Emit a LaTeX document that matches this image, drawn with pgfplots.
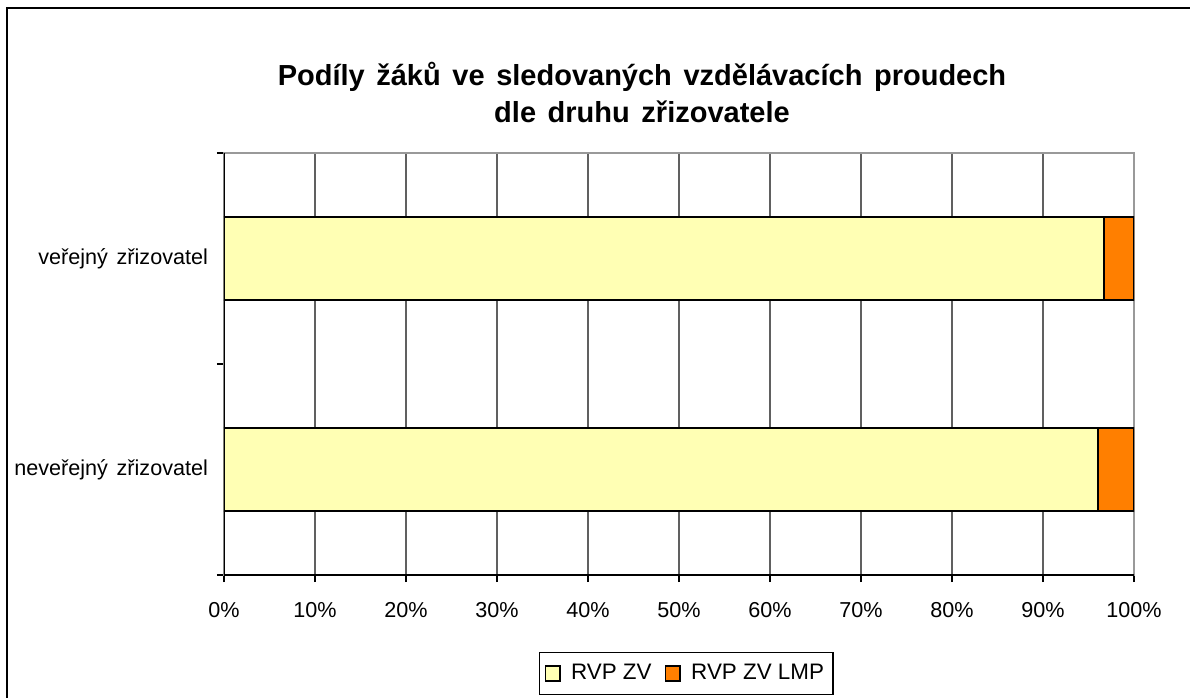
\documentclass[border=0pt]{standalone}
\usepackage{pgfplots}
\pgfplotsset{compat=1.18}
\usepackage{fontspec}
\setmainfont{Liberation Sans}
\newcommand{\wsp}[1]{\spaceskip=#1\relax}
\definecolor{zv}{HTML}{FFFFB4}
\definecolor{lmp}{HTML}{FF7F00}
\definecolor{gridc}{HTML}{606060}
\definecolor{boxc}{HTML}{999999}
\begin{document}
\begin{tikzpicture}
\useasboundingbox (0,0) rectangle (595pt,348.5pt);
\fill[white] (0,0) rectangle (595pt,348.5pt);
\draw[black, line width=0.7pt] (3.5pt,-5pt) -- (3.5pt,344.5pt) -- (600pt,344.5pt);
\node[align=center, font=\fontsize{14.5}{18.5}\selectfont\bfseries\wsp{0.4em}] at (321pt,302pt)
  {Podíly žáků ve sledovaných vzdělávacích proudech\\dle druhu zřizovatele};
\begin{axis}[
  at={(112pt,61pt)}, anchor=south west,
  scale only axis, width=455pt, height=211pt,
  xbar stacked, bar width=0.39,
  xmin=0, xmax=100, ymin=-0.5, ymax=1.5,
  xtick={0,10,...,100},
  xticklabel={\pgfmathprintnumber{\tick}\%},
  /pgf/number format/assume math mode=true,
  ytick={-0.5,0.5,1.5}, yticklabels={},
  extra y ticks={0,1},
  extra y tick labels={neveřejný zřizovatel, veřejný zřizovatel},
  extra y tick style={major tick length=0pt, grid=none},
  tick align=outside, xtick pos=bottom, ytick pos=left,
  major tick length=3.5pt,
  tick style={black, line width=0.6pt},
  xmajorgrids, ymajorgrids=false,
  major grid style={gridc, line width=0.6pt},
  axis line style={boxc, line width=0.8pt},
  ticklabel style={font=\fontsize{10.8}{12}\selectfont\wsp{0.4em}},
  xticklabel style={yshift=-6.5pt},
  yticklabel style={xshift=-4.5pt},
  legend style={at={(0.508,-0.182)}, anchor=north, legend columns=2,
    draw=black, line width=0.6pt, font=\fontsize{11.2}{12}\selectfont,
    inner xsep=2.5pt, inner ysep=4pt, row sep=0pt,
    /tikz/every odd column/.append style={column sep=3pt},
    /tikz/every even column/.append style={column sep=4.5pt}},
  legend image code/.code={\draw[#1, draw=black, line width=0.9pt] (0pt,-3.7pt) rectangle (7.4pt,3.7pt);},
]
\addplot[fill=zv, draw=black, line width=0.9pt] coordinates {(96.0,0) (96.7,1)};
\addplot[fill=lmp, draw=black, line width=0.9pt] coordinates {(4.0,0) (3.3,1)};
\legend{RVP ZV, RVP ZV LMP}
\draw[black, line width=0.8pt] (rel axis cs:0,0) -- (rel axis cs:0,1);
\draw[black, line width=0.8pt] (rel axis cs:0,0) -- (rel axis cs:1,0);
\end{axis}
\end{tikzpicture}
\end{document}
